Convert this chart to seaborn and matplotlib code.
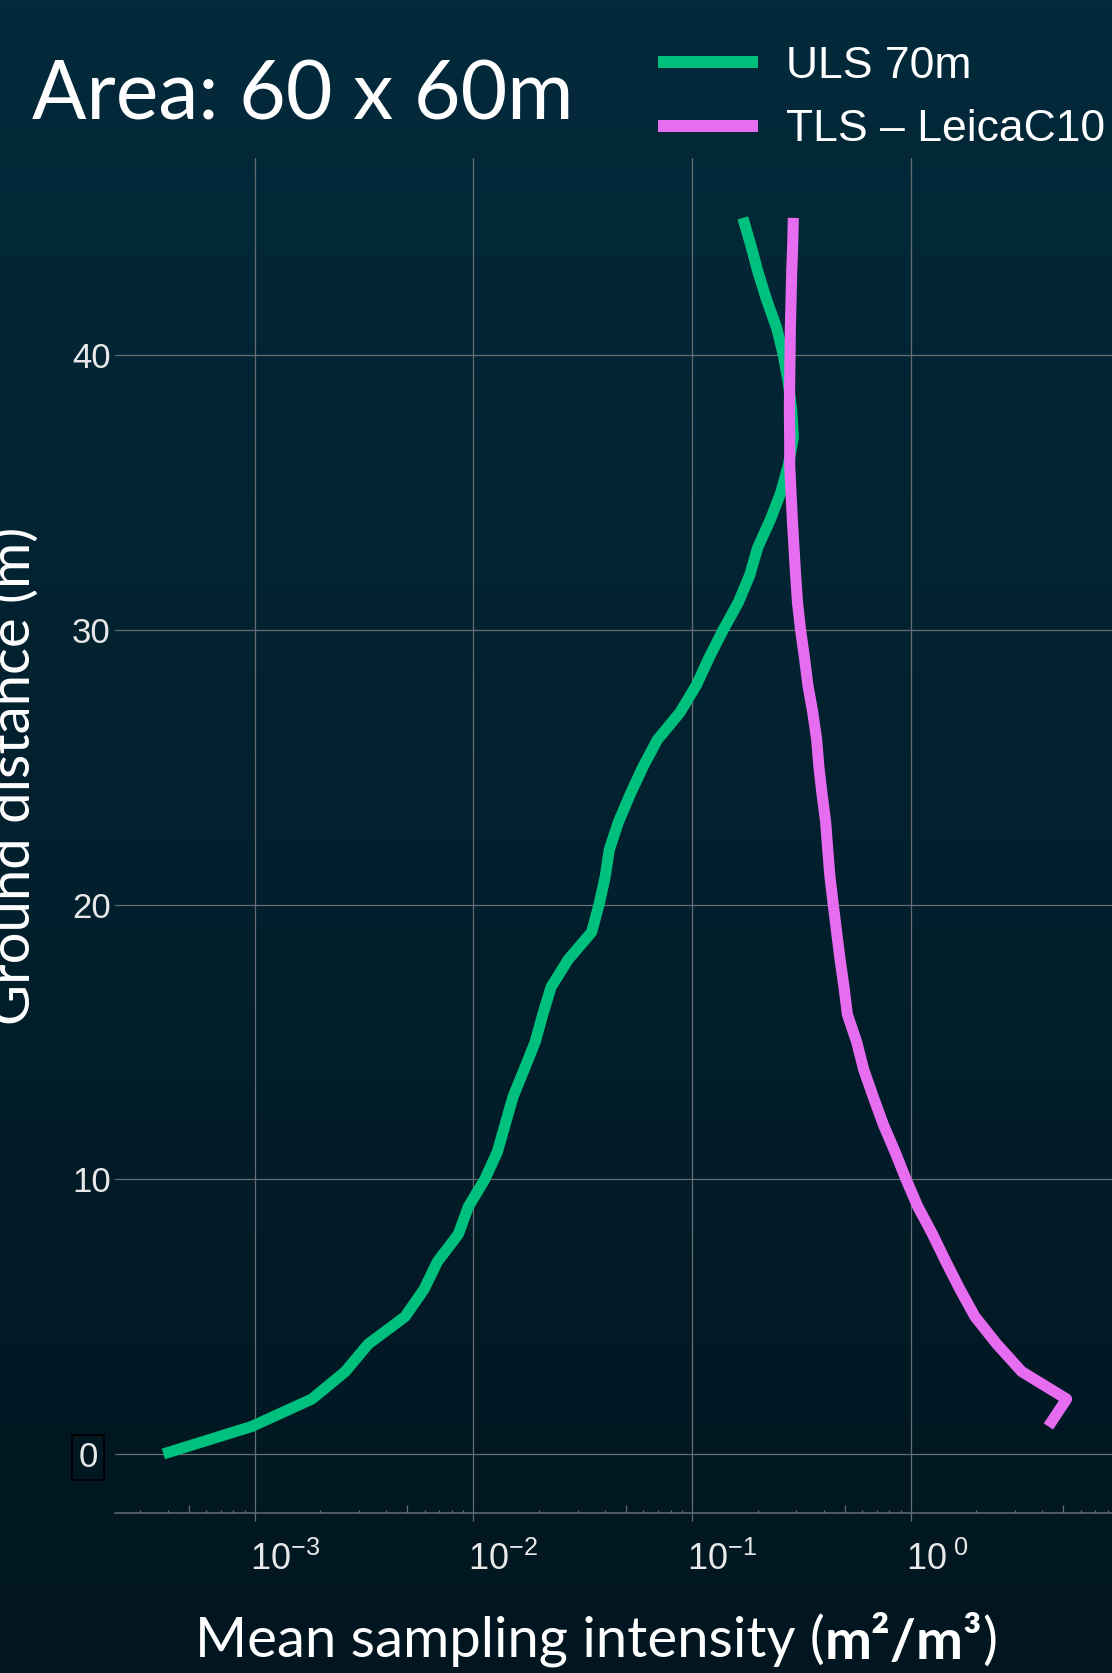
import numpy as np
import pandas as pd
import matplotlib
matplotlib.use("Agg")
import matplotlib.pyplot as plt
import seaborn as sns
from matplotlib.colors import LinearSegmentedColormap
from matplotlib.ticker import LogLocator, NullFormatter, NullLocator
from matplotlib.transforms import ScaledTranslation

# Mean sampling intensity per 1 m height bin (m2/m3)
uls_height = [0, 1, 2, 3, 4, 5, 6, 7, 8, 9,
              10, 11, 12, 13, 14, 15, 16, 17, 18, 19,
              20, 21, 22, 23, 24, 25, 26, 27, 28, 29,
              30, 31, 32, 33, 34, 35, 36, 37, 38, 39,
              40, 41, 42, 43, 44, 45]
uls_intensity = [3.83e-4, 9.7e-4, 1.83e-3, 2.6e-3, 3.31e-3, 4.88e-3, 5.96e-3, 6.86e-3, 8.55e-3, 9.5e-3,
                 1.13e-2, 1.29e-2, 1.40e-2, 1.52e-2, 1.71e-2, 1.92e-2, 2.08e-2, 2.27e-2, 2.72e-2, 3.48e-2,
                 3.76e-2, 4.01e-2, 4.19e-2, 4.61e-2, 5.21e-2, 5.96e-2, 6.95e-2, 8.83e-2, 0.105, 0.120,
                 0.139, 0.163, 0.184, 0.200, 0.228, 0.255, 0.276, 0.291, 0.286, 0.276,
                 0.262, 0.244, 0.220, 0.201, 0.186, 0.171]

tls_height = [1, 2, 3, 4, 5, 6, 7, 8, 9, 10,
              11, 12, 13, 14, 15, 16, 17, 18, 19, 20,
              21, 22, 23, 24, 25, 26, 27, 28, 29, 30,
              31, 32, 33, 34, 35, 36, 37, 38, 39, 40,
              41, 42, 43, 44, 45]
tls_intensity = [4.27, 5.17, 3.22, 2.48, 1.97, 1.68, 1.45, 1.26, 1.08, 0.953,
                 0.849, 0.75, 0.675, 0.61, 0.567, 0.514, 0.496, 0.476, 0.459, 0.443,
                 0.428, 0.418, 0.409, 0.394, 0.381, 0.372, 0.357, 0.339, 0.327, 0.314,
                 0.304, 0.298, 0.293, 0.288, 0.284, 0.28, 0.28, 0.279, 0.28, 0.281,
                 0.282, 0.284, 0.286, 0.289, 0.291]

series_names = ["ULS 70m", "TLS – LeicaC10"]
series_colors = ["#00C07D", "#E66CF0"]
y_ticks = [0, 10, 20, 30, 40]
x_ticks = [1e-3, 1e-2, 1e-1, 1]
x_tick_labels = [r"$10^{-3}$", r"$10^{-2}$", r"$10^{-1}$", r"$10^{\ 0}$"]

df = pd.concat([
    pd.DataFrame({"height": uls_height, "intensity": uls_intensity, "scanner": series_names[0]}),
    pd.DataFrame({"height": tls_height, "intensity": tls_intensity, "scanner": series_names[1]}),
], ignore_index=True)

sns.set_theme(style="ticks", rc={"axes.facecolor": "none"})
plt.rcParams["font.family"] = ["Liberation Sans", "DejaVu Sans"]
plt.rcParams["mathtext.fontset"] = "custom"
plt.rcParams["mathtext.rm"] = "Liberation Sans"
plt.rcParams["mathtext.it"] = "Liberation Sans:italic"
plt.rcParams["mathtext.bf"] = "Liberation Sans:bold"
plt.rcParams["mathtext.default"] = "regular"

grid_color = "#646e73"
text_color = "#e8e8e8"
label_font = ["Lato", "DejaVu Sans"]

fig = plt.figure(figsize=(11.12, 16.73), dpi=100)

# gradient slide background
bg = fig.add_axes([0, 0, 1, 1], zorder=-10)
cmap = LinearSegmentedColormap.from_list("bg", ["#032a3b", "#011620"])
bg.imshow(np.linspace(0, 1, 256).reshape(-1, 1), aspect="auto", cmap=cmap, extent=[0, 1, 0, 1])
bg.set_axis_off()

ax = fig.add_axes([115 / 1112, 1 - 1513 / 1673, 1 - 115 / 1112, (1513 - 158) / 1673])
ax.set_facecolor("none")

sns.lineplot(data=df, x="intensity", y="height", hue="scanner", palette=series_colors,
             sort=False, estimator=None, linewidth=8, solid_capstyle="butt", ax=ax)

ax.set_xscale("log")
ax.set_xlim(2.30e-4, 8.34)
ax.set_ylim(-2.15, 47.18)
ax.set_xlabel("")
ax.set_ylabel("")

for s in ["left", "right", "top"]:
    ax.spines[s].set_visible(False)
ax.spines["bottom"].set_color(grid_color)
ax.spines["bottom"].set_linewidth(1.1)

ax.grid(True, which="major", color=grid_color, linewidth=0.9)
ax.set_axisbelow(True)

ax.set_yticks(y_ticks)
ax.tick_params(axis="y", length=0, pad=3, labelsize=25, labelcolor=text_color)
ax.set_xticks(x_ticks, labels=x_tick_labels)
ax.xaxis.set_minor_locator(LogLocator(base=10, subs=[2, 3, 4, 6, 7, 8, 9], numticks=30))
ax.xaxis.set_minor_formatter(NullFormatter())
ax.tick_params(axis="x", which="major", direction="out", length=5.5, width=0.9, color=grid_color,
               pad=15, labelsize=26, labelcolor=text_color)
ax.tick_params(axis="x", which="minor", direction="in", length=2.4, width=0.9, color=grid_color)

for lab in ax.get_xticklabels():
    lab.set_horizontalalignment("left")
    lab.set_transform(lab.get_transform() + ScaledTranslation(-0.05, 0, fig.dpi_scale_trans))

zero_lab = ax.get_yticklabels()[0]
zero_lab.set_transform(zero_lab.get_transform() + ScaledTranslation(-0.13, 0, fig.dpi_scale_trans))
zero_lab.set_bbox(dict(boxstyle="square,pad=0.18", facecolor="none",
                       edgecolor="black", linewidth=1.3))

# taller minor ticks at the 5s
ax5 = ax.twiny()
ax5.set_xscale("log")
ax5.set_xlim(ax.get_xlim())
ax5.xaxis.set_ticks_position("bottom")
ax5.xaxis.set_major_locator(LogLocator(base=10, subs=[5], numticks=30))
ax5.xaxis.set_minor_locator(NullLocator())
ax5.tick_params(axis="x", direction="in", length=5.8, width=0.9, color=grid_color,
                labelbottom=False, labeltop=False)
for s in ax5.spines.values():
    s.set_visible(False)

handles, labels = ax.get_legend_handles_labels()
ax.get_legend().remove()
leg = fig.legend(handles, labels, loc="upper left", bbox_to_anchor=(658 / 1112, 1 - 46 / 1673),
                 frameon=False, fontsize=32, handlelength=2.25, handletextpad=0.62,
                 labelspacing=0.5, borderpad=0, borderaxespad=0)
for t in leg.get_texts():
    t.set_color("white")
for ln in leg.get_lines():
    ln.set_linewidth(8.6)

fig.text(32 / 1112, 1 - 120 / 1673, "Area: 60 x 60m", fontsize=58, color="white",
         family=label_font, va="baseline", ha="left")

fig.text(40 / 1112, 1 - 776 / 1673, "Ground distance (m)", rotation=90, fontsize=40.5,
         color="white", family=label_font, ha="right", va="center")

t1 = fig.text(195 / 1112, 1 - 1668 / 1673, "Mean sampling intensity (", fontsize=40.5,
              color="white", family=label_font, ha="left", va="bottom")
t2 = ax.annotate("m²/m³", xy=(1, 0), xycoords=t1, fontsize=40.5, color="white",
                 family=label_font, fontweight="bold", ha="left", va="bottom",
                 annotation_clip=False)
ax.annotate(")", xy=(1, 0), xycoords=t2, fontsize=40.5, color="white",
            family=label_font, ha="left", va="bottom", annotation_clip=False)

fig.savefig("out.png", dpi=100)
